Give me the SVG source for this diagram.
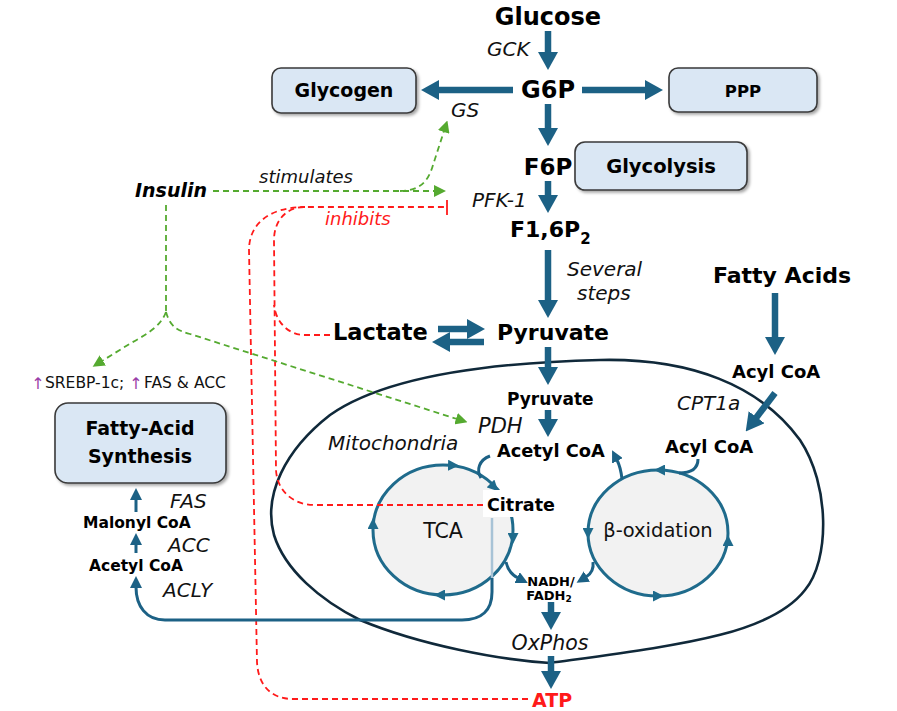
<svg xmlns="http://www.w3.org/2000/svg" width="897" height="711" viewBox="0 0 897 711">
<style>
.b{font-family:"DejaVu Sans","Liberation Sans",sans-serif;font-weight:bold;fill:#000}
.i{font-family:"DejaVu Sans","Liberation Sans",sans-serif;font-style:italic;fill:#111}
.r{font-family:"DejaVu Sans","Liberation Sans",sans-serif;fill:#111}
.up{font-family:"DejaVu Sans",sans-serif;fill:#9b3fa8}
.box{fill:#dae7f4;stroke:#3a3a3a;stroke-width:1.6}
.thick{fill:none;stroke:#1c6185;stroke-width:6.5}
.thin{fill:none;stroke:#1c6185;stroke-width:3}
.cyc{fill:#f2f2f2;stroke:#1f6b8c;stroke-width:3}
.g{fill:none;stroke:#55aa30;stroke-width:1.8;stroke-dasharray:6 4}
.rd{fill:none;stroke:#ff1a1a;stroke-width:1.8;stroke-dasharray:6 4}
</style>
<defs>
<filter id="sh" x="-10%" y="-10%" width="130%" height="140%"><feDropShadow dx="2" dy="2" stdDeviation="1.5" flood-color="#000" flood-opacity="0.35"/></filter>
<marker id="big" markerUnits="userSpaceOnUse" viewBox="0 0 18 20" markerWidth="18" markerHeight="20" refX="1" refY="10" orient="auto"><path d="M0,0 L18,10 L0,20 z" fill="#1c6185"/></marker>
<marker id="smt" markerUnits="userSpaceOnUse" viewBox="0 0 12 12" markerWidth="12" markerHeight="12" refX="1" refY="6" orient="auto"><path d="M0,0 L12,6 L0,12 z" fill="#1c6185"/></marker>
<marker id="cm" markerUnits="userSpaceOnUse" viewBox="0 0 11 11" markerWidth="11" markerHeight="11" refX="5" refY="5.5" orient="auto"><path d="M0,0 L11,5.5 L0,11 z" fill="#1f6b8c"/></marker>
<marker id="ga" markerUnits="userSpaceOnUse" viewBox="0 0 12 12" markerWidth="12" markerHeight="12" refX="1" refY="6" orient="auto"><path d="M0,0 L12,6 L0,12 z" fill="#55aa30"/></marker>
</defs>

<g id="mitochondria">
<path d="M550,663 C500,660 420,645 360,620 C320,600 285,570 274,535 C263,495 285,450 330,415 C380,380 470,363 600,360 C690,358 760,385 800,440 C830,485 830,560 805,590 C770,635 680,645 550,663 Z" fill="none" stroke="#10293a" stroke-width="2.6"/>
<text class="i" x="328" y="450" font-size="20">Mitochondria</text>
</g>

<g id="tca">
<ellipse class="cyc" cx="443" cy="530" rx="70" ry="65"/>
<text class="r" x="443" y="538" font-size="20.5" text-anchor="middle">TCA</text>
</g>
<g id="beta-oxidation">
<ellipse class="cyc" cx="658" cy="533" rx="70" ry="63"/>
<text class="r" x="658" y="537" font-size="19.5" text-anchor="middle">β-oxidation</text>
</g>

<g id="connectors">
<path class="rd" d="M528,699 L293,699 C270,699 258,684 257,662 L249,250 C249,225 268,207 305,207"/>
<path class="rd" d="M483,505 L315,505 C292,505 277,490 276,470 L274,240 C274,222 285,207 305,207 L445,207"/>
<path class="rd" d="M330,335 L305,335 C288,335 276,322 274,305"/>
<path d="M447,200 L447,215" stroke="#ff1a1a" stroke-width="1.8"/>
<path class="g" d="M213,191 L435,191" marker-end="url(#ga)"/>
<path class="g" d="M400,191 C418,191 428,183 433,165 L444,131" marker-end="url(#ga)"/>
<path class="g" d="M166,205 L166,312"/>
<path class="g" d="M166,312 C161,325 151,332 131,343 L102,361" marker-end="url(#ga)"/>
<path class="g" d="M166,312 C170,326 176,330 190,334 L457,419" marker-end="url(#ga)"/>
<path class="thick" d="M548,31 L548,53" marker-end="url(#big)"/>
<path class="thick" d="M513,90 L438,90" marker-end="url(#big)"/>
<path class="thick" d="M582,90 L646,90" marker-end="url(#big)"/>
<path class="thick" d="M548,104 L548,129" marker-end="url(#big)"/>
<path class="thick" d="M548,181 L548,196" marker-end="url(#big)"/>
<path class="thick" d="M548,250 L548,301" marker-end="url(#big)"/>
<path class="thick" d="M438,329 L468,329" marker-end="url(#big)"/>
<path class="thick" d="M484,342 L449,342" marker-end="url(#big)"/>
<path class="thick" d="M548,347 L548,368" marker-end="url(#big)"/>
<path class="thick" d="M548,410 L548,420" marker-end="url(#big)"/>
<path class="thick" d="M775,293 L775,338" marker-end="url(#big)"/>
<path class="thick" d="M775,393 L756,418" marker-end="url(#big)"/>
<path class="thick" d="M551,602 L551,613" marker-end="url(#big)"/>
<path class="thick" d="M551,656 L551,672" marker-end="url(#big)"/>
<path d="M447,465.2 L453,465.4" stroke="none" marker-end="url(#cm)"/>
<path d="M488,481 L494,487" stroke="none" marker-end="url(#cm)"/>
<path d="M513,532 L513,538" stroke="none" marker-end="url(#cm)"/>
<path d="M446,595 L440,595" stroke="none" marker-end="url(#cm)"/>
<path d="M373,530 L373,524" stroke="none" marker-end="url(#cm)"/>
<path class="thin" d="M490,456 C479,460 476,470 481,478"/>
<path class="thin" d="M506,562 C508,571 512,575 518,578" marker-end="url(#smt)"/>
<path d="M666,470 L660,470" stroke="none" marker-end="url(#cm)"/>
<path d="M728,547 L728,541" stroke="none" marker-end="url(#cm)"/>
<path d="M652,596 L658,596" stroke="none" marker-end="url(#cm)"/>
<path d="M588,527 L588,533" stroke="none" marker-end="url(#cm)"/>
<path class="thin" d="M698,459 C698,469 690,473 679,473"/>
<path class="thin" d="M622,479 C621,470 619,464 617,460" marker-end="url(#smt)"/>
<path class="thin" d="M593,562 C594,570 591,574 586,577" marker-end="url(#smt)"/>
<path d="M492,518 L492,578" stroke="#a8c3d6" stroke-width="2.5" fill="none"/>
<path class="thin" d="M492,578 L492,592 C492,610 482,620 462,620 L165,620 C146,620 136,606 136,587" marker-end="url(#smt)"/>
<path class="thin" d="M136,553 L136,544" marker-end="url(#smt)"/>
<path class="thin" d="M136,512 L136,499" marker-end="url(#smt)"/>
</g>

<g id="glucose"><text class="b" x="548" y="25" font-size="24" text-anchor="middle">Glucose</text></g>
<g id="gck"><text class="i" x="487" y="56" font-size="20">GCK</text></g>
<g id="g6p"><text class="b" x="548" y="98" font-size="24" text-anchor="middle">G6P</text></g>
<g id="glycogen">
<rect class="box" x="272" y="68" width="144" height="45" rx="9" filter="url(#sh)"/>
<text class="b" x="344" y="97" font-size="19" text-anchor="middle">Glycogen</text>
</g>
<g id="gs"><text class="i" x="451" y="117" font-size="20">GS</text></g>
<g id="ppp">
<rect class="box" x="669" y="68" width="148" height="44" rx="9" filter="url(#sh)"/>
<text class="b" x="743" y="97" font-size="16.5" text-anchor="middle">PPP</text>
</g>
<g id="f6p"><text class="b" x="548" y="175" font-size="23" text-anchor="middle">F6P</text></g>
<g id="glycolysis">
<rect class="box" x="575" y="142" width="172" height="48" rx="10" filter="url(#sh)"/>
<text class="b" x="661" y="173" font-size="19.5" text-anchor="middle">Glycolysis</text>
</g>
<g id="pfk1"><text class="i" x="472" y="207" font-size="20">PFK-1</text></g>
<g id="f16p2"><text class="b" x="510" y="237" font-size="22">F1,6P<tspan font-size="15" dy="7">2</tspan></text></g>
<g id="several-steps">
<text class="i" x="567" y="276" font-size="20">Several</text>
<text class="i" x="577" y="300" font-size="20">steps</text>
</g>
<g id="lactate"><text class="b" x="333" y="340" font-size="22.5">Lactate</text></g>
<g id="pyruvate"><text class="b" x="497" y="340" font-size="22">Pyruvate</text></g>
<g id="insulin"><text class="b" x="135" y="197" font-size="19" font-style="italic">Insulin</text></g>
<g id="stimulates"><text class="i" x="259" y="183" font-size="18">stimulates</text></g>
<g id="inhibits"><text class="i" x="325" y="225" font-size="18" style="fill:#ff1a1a">inhibits</text></g>
<g id="fatty-acids"><text class="b" x="713" y="283" font-size="22">Fatty Acids</text></g>
<g id="acyl-coa-cyto"><text class="b" x="732" y="378" font-size="18">Acyl CoA</text></g>
<g id="cpt1a"><text class="i" x="677" y="410" font-size="20">CPT1a</text></g>
<g id="acyl-coa-mito"><text class="b" x="665" y="453" font-size="18">Acyl CoA</text></g>
<g id="pyruvate-mito"><text class="b" x="507" y="405" font-size="17">Pyruvate</text></g>
<g id="pdh"><text class="i" x="478" y="433" font-size="21">PDH</text></g>
<g id="acetyl-coa-mito"><text class="b" x="497" y="457" font-size="17.8">Acetyl CoA</text></g>
<g id="citrate">
<rect x="483" y="490" width="74" height="27" fill="#fff"/>
<text class="b" x="487" y="511" font-size="17.5">Citrate</text>
</g>
<g id="nadh">
<text class="b" x="551" y="586" font-size="13" text-anchor="middle">NADH/</text>
<text class="b" x="549" y="600" font-size="13" text-anchor="middle">FADH<tspan font-size="9" dy="2">2</tspan></text>
</g>
<g id="oxphos"><text class="i" x="550" y="650" font-size="20.5" text-anchor="middle">OxPhos</text></g>
<g id="atp"><text class="b" x="552" y="707" font-size="19" text-anchor="middle" style="fill:#ff1a1a">ATP</text></g>
<g id="srebp">
<text class="up" x="38" y="389" font-size="16" text-anchor="middle">↑</text>
<text class="r" x="45" y="388" font-size="15.5">SREBP-1c;</text>
<text class="up" x="136" y="389" font-size="16" text-anchor="middle">↑</text>
<text class="r" x="144" y="388" font-size="15.5">FAS &amp; ACC</text>
</g>
<g id="fatty-acid-synthesis">
<rect class="box" x="55" y="403" width="171" height="80" rx="13" filter="url(#sh)"/>
<text class="b" x="140" y="435" font-size="19" text-anchor="middle">Fatty-Acid</text>
<text class="b" x="140" y="463" font-size="19" text-anchor="middle">Synthesis</text>
</g>
<g id="fas"><text class="i" x="170" y="508" font-size="20">FAS</text></g>
<g id="malonyl-coa"><text class="b" x="83" y="528" font-size="15.5">Malonyl CoA</text></g>
<g id="acc"><text class="i" x="168" y="552" font-size="20">ACC</text></g>
<g id="acetyl-coa-cyto"><text class="b" x="89" y="571" font-size="15.5">Acetyl CoA</text></g>
<g id="acly"><text class="i" x="163" y="597" font-size="20">ACLY</text></g>
</svg>
